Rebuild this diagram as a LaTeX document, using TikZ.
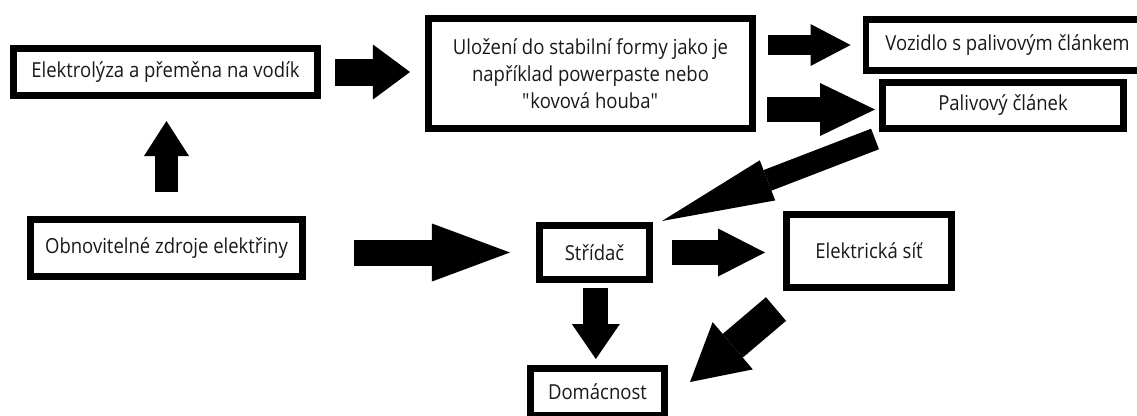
\documentclass[tikz,border=0pt]{standalone}
\usepackage{fontspec}
\setmainfont{Open Sans}[FakeStretch=0.895]
\usepackage{tikz}
\usetikzlibrary{arrows.meta,calc}

\begin{document}
\begin{tikzpicture}[x=0.75pt,y=-0.75pt,
  box/.style={draw=black,line width=5pt,fill=white,inner sep=0pt,align=center,
    text=black!90,font=\fontsize{15.5}{20.25}\selectfont},
  bigarrow/.style n args={3}{line width=#1,-{Triangle[width=#2,length=#3,line width=0pt]}}]
\useasboundingbox (0,0) rectangle (1137,415);
\clip (0,0) rectangle (1137,415);
\node[box,minimum width=228.3pt,minimum height=35.5pt] (elektrolyza) at (165.5,72) {Elektrolýza a přeměna na vodík};
\node[box,minimum width=204.3pt,minimum height=43pt] (obnov) at (166.5,248) {Obnovitelné zdroje elektřiny};
\node[box,minimum width=243.3pt,minimum height=82.8pt] (ulozeni) at (590.5,73.5) {Uložení do stabilní formy jako je\\ například powerpaste nebo\\ \textquotedbl kovová houba\textquotedbl};
\node[box,minimum width=220pt,minimum height=38.5pt,anchor=west] (vozidlo) at (862.5,45) {\hspace*{-7.5pt}Vozidlo s palivovým článkem};
\node[box,minimum width=181pt,minimum height=34.7pt] (palivovy) at (1003,105.5) {Palivový článek};
\node[box,minimum width=82.8pt,minimum height=40.8pt] (stridac) at (594.5,252.5) {Střídač};
\node[box,minimum width=124pt,minimum height=55pt] (sit) at (869,251) {Elektrická síť};
\node[box,minimum width=100.8pt,minimum height=35.5pt] (domacnost) at (597.5,392) {Domácnost};
\draw[bigarrow={17.25pt}{33.75pt}{26.25pt},shorten <=18pt,shorten >=16.5pt] (obnov.north) -- (obnov.north |- elektrolyza.south);
\draw[bigarrow={20.25pt}{41.25pt}{27.75pt},shorten <=10.5pt,shorten >=11.25pt] (elektrolyza.east) -- (elektrolyza.east -| ulozeni.west);
\draw[bigarrow={15pt}{31.5pt}{30pt},shorten <=9pt,shorten >=9pt] (ulozeni.east |- vozidlo.west) -- (vozidlo.west);
\draw[bigarrow={18.75pt}{39.75pt}{41.25pt},shorten <=8.25pt,shorten >=3pt] ([yshift=-3pt]ulozeni.east |- palivovy.west) -- ([yshift=-3pt]palivovy.west);
\draw[bigarrow={16.5pt}{32.25pt}{84.75pt}] ([shift={(-4,7)}]palivovy.south west) -- ([shift={(9,-1)}]stridac.north east);
\draw[bigarrow={19.5pt}{43.5pt}{58.5pt},shorten <=36pt,shorten >=19.5pt] (stridac.west -| obnov.east) -- (stridac.west);
\draw[bigarrow={18.75pt}{36pt}{35.25pt},shorten <=14.25pt,shorten >=13.5pt] (stridac.east) -- (stridac.east -| sit.west);
\draw[bigarrow={18.75pt}{36pt}{26.25pt},shorten <=3.75pt,shorten >=4.5pt] ([xshift=1pt]stridac.south) -- ([xshift=1pt]stridac.south |- domacnost.north);
\draw[bigarrow={23.25pt}{46.5pt}{42pt}] ([shift={(-7,18)}]sit.south west) -- ([shift={(22,17)}]domacnost.north east);
\end{tikzpicture}
\end{document}
